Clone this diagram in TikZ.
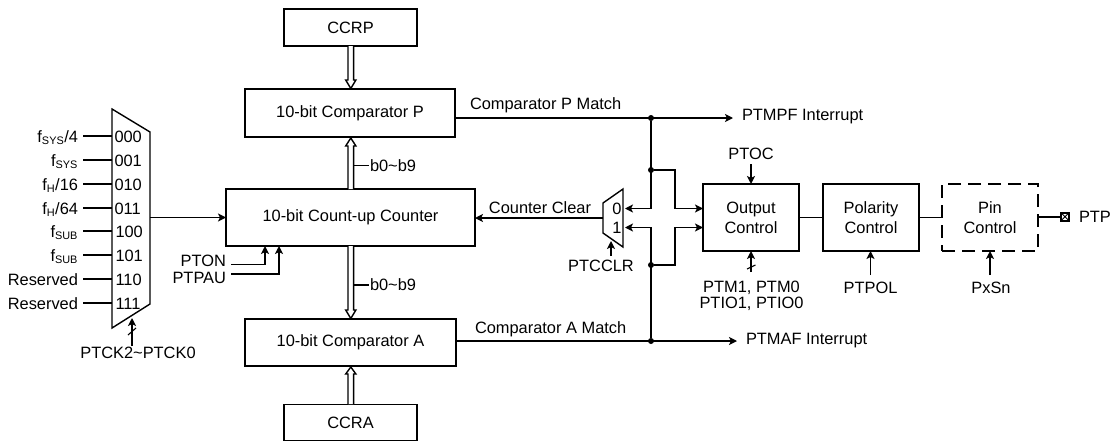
\documentclass[tikz,border=0pt]{standalone}
\usepackage{fontspec}
\setmainfont{Liberation Sans}
\usetikzlibrary{arrows.meta}
\newcommand{\sbs}[1]{\textsubscript{\scalebox{0.95}{#1}}}
\tikzset{
  x=1pt,y=-1pt,
  every node/.style={font=\fontsize{16.4}{20}\selectfont,inner sep=0pt,outer sep=0pt},
  boxn/.style={draw,line width=1.4pt,align=center,anchor=north west,font=\fontsize{16.4}{20}\selectfont},
  wire/.style={line width=1.4pt,line join=miter},
  arr/.style={wire,-{Stealth[length=8pt,width=8pt,inset=2pt]}},
  bus/.style={draw,fill=white,line width=1.4pt,line join=miter},
  lab/.style={anchor=base},
  dotn/.style={circle,fill=black,minimum size=6pt}
}
\begin{document}
\begin{tikzpicture}
\useasboundingbox (0,0) rectangle (1112,442);
% boxes
\node[boxn,minimum width=133pt,minimum height=37pt] (ccrp) at (284,9) {CCRP};
\node[boxn,minimum width=210pt,minimum height=48pt] (cmpp) at (245,89) {10-bit Comparator P};
\node[boxn,minimum width=249pt,minimum height=57pt] (cnt) at (226,189) {10-bit Count-up Counter};
\node[boxn,minimum width=211pt,minimum height=47pt] (cmpa) at (245,319) {10-bit Comparator A};
\node[boxn,minimum width=133pt,minimum height=36pt] (ccra) at (284,404.5) {CCRA};
\node[boxn,minimum width=96pt,minimum height=67pt] (out) at (703,184) {Output\\Control};
\node[boxn,minimum width=96pt,minimum height=67pt] (pol) at (823,184) {Polarity\\Control};
\node[boxn,minimum width=96pt,minimum height=67pt,dash pattern=on 13pt off 7pt] (pin) at (942,184) {Pin\\Control};
% big mux
\draw[wire] (112,109) coordinate (m1) -- (150,132) -- (150,304) -- (112,328) -- cycle;
\coordinate (mo) at (150,217.5);
\draw[arr] (mo) -- (cnt.west |- mo);
\foreach \y/\t/\c/\xo in {136/{f\sbs{SYS}/4}/000/114.5,160/{f\sbs{SYS}}/001/114.5,184/{f\sbs{H}/16}/010/114.5,208/{f\sbs{H}/64}/011/114.5,231/{f\sbs{SUB}}/100/115.5,255/{f\sbs{SUB}}/101/115.5,279/{Reserved}/110/115.5,303/{Reserved}/111/115.5}{
  \coordinate (in) at (83,\y);
  \coordinate (int) at (111.5,\y);
  \draw[wire] (in) -- (int);
  \node[anchor=base east] at (78,\y+6) {\t};
  \node[anchor=base west] at (\xo,\y+6) {\c};
}
% PTCK
\coordinate (ck) at (132,346);
\coordinate (ckt) at (132,318);
\draw[arr] (ck) -- (ckt);
\draw[wire,line width=1.1pt] (128,335) -- (136,328);
\node[lab] (ptck) at (138,358) {PTCK2\textasciitilde PTCK0};
% PTON PTPAU
\node[anchor=base east] (pton) at (226,266) {PTON};
\node[anchor=base east] (ptpau) at (226,283) {PTPAU};
\coordinate (a1) at (231,264.5); \coordinate (a2) at (265,264.5);
\coordinate (a3) at (231,274); \coordinate (a4) at (279,274);
\draw[arr] (a1) -- (a2) -- (a2 |- cnt.south);
\draw[arr] (a3) -- (a4) -- (a4 |- cnt.south);
% buses
\draw[bus] (348,46) -- (348,80) -- (345.7,80) -- (350.8,88.5) -- (355.9,80) -- (353.6,80) -- (353.6,46);
\draw[bus] (348,189) -- (348,146) -- (345.7,146) -- (350.8,138) -- (355.9,146) -- (353.6,146) -- (353.6,189);
\draw[bus] (348,246) -- (348,310) -- (345.7,310) -- (350.8,318.5) -- (355.9,310) -- (353.6,310) -- (353.6,246);
\draw[bus] (348,404) -- (348,374) -- (345.7,374) -- (350.8,367) -- (355.9,374) -- (353.6,374) -- (353.6,404);
\coordinate (b1) at (353.6,165.5); \coordinate (b1e) at (369,165.5);
\draw[wire] (b1) -- (b1e);
\node[anchor=base west] (b0a) at (370,171) {b0\textasciitilde b9};
\coordinate (b2) at (353.6,285); \coordinate (b2e) at (369,285);
\draw[wire] (b2) -- (b2e);
\node[anchor=base west] (b0b) at (370,290.5) {b0\textasciitilde b9};
% right side
\node[dotn] (dp) at (651,118) {};
\node[dotn] (da) at (651,341) {};
\node[dotn] (d1) at (651,170) {};
\node[dotn] (d2) at (651,265) {};
\coordinate (ep) at (733,118); \coordinate (ea) at (737,341);
\draw[arr] (cmpp.east |- dp) -- (ep);
\draw[arr] (cmpa.east |- da) -- (ea);
\node[anchor=base west] (ti1) at (742,120.5) {PTMPF Interrupt};
\node[anchor=base west] (ti2) at (746,344.5) {PTMAF Interrupt};
\node[anchor=base west] (cpm) at (470,109) {Comparator P Match};
\node[anchor=base west] (cam) at (475,333) {Comparator A Match};
% small mux
\draw[wire] (603,203) -- (623,189) -- (623,247) -- (603,233) -- cycle;
\coordinate (sm) at (603,218);
\draw[arr] (sm) -- (cnt.east |- sm);
\node[lab] (cc) at (540,213) {Counter Clear};
\node[lab] (z) at (617,214) {0};
\node[lab] (o) at (617,233) {1};
\coordinate (i0) at (625,208.5); \coordinate (i1) at (625,227.5);
\draw[arr] (dp) -- (651,208.5) -- (i0);
\draw[arr] (da) -- (651,227.5) -- (i1);
\draw[arr] (d1) -- (675,170) -- (675,208.5) -- (out.west |- i0);
\draw[arr] (d2) -- (675,265) -- (675,227.5) -- (out.west |- i1);
\coordinate (cl) at (611,256); \coordinate (cl0) at (611,241);
\draw[arr] (cl) -- (cl0);
\node[lab] (ptcclr) at (601,271) {PTCCLR};
% control
\node[lab] (ptoc) at (751,159) {PTOC};
\coordinate (pc) at (751,164);
\draw[arr] (pc) -- (out.north);
\coordinate (pm) at (751,272);
\draw[arr] (pm) -- (out.south);
\draw[wire,line width=1.1pt] (747,269) -- (755.5,265);
\node[lab] (ptm) at (751.5,292.5) {PTM1, PTM0};
\node[lab] (ptio) at (751.5,308) {PTIO1, PTIO0};
\coordinate (pp) at (870.5,275);
\draw[arr] (pp) -- (pol.south -| pp);
\node[lab] (ptpol) at (870.5,293) {PTPOL};
\coordinate (px) at (990,275);
\draw[arr] (px) -- (pin.south -| px);
\node[lab] (pxsn) at (991,293) {PxSn};
\draw[wire] (out.east) -- (pol.west);
\draw[wire] (pol.east) -- (pin.west);
% PTP
\node[draw,line width=1.4pt,minimum size=8pt,anchor=center,path picture={\draw[line width=.9pt] (path picture bounding box.south west) -- (path picture bounding box.north east) (path picture bounding box.north west) -- (path picture bounding box.south east);}] (pad) at (1065,216.8) {};
\draw[wire] (pin.east |- pad) -- (pad.west);
\node[anchor=base west] (ptp) at (1079,222) {PTP};
\end{tikzpicture}
\end{document}
